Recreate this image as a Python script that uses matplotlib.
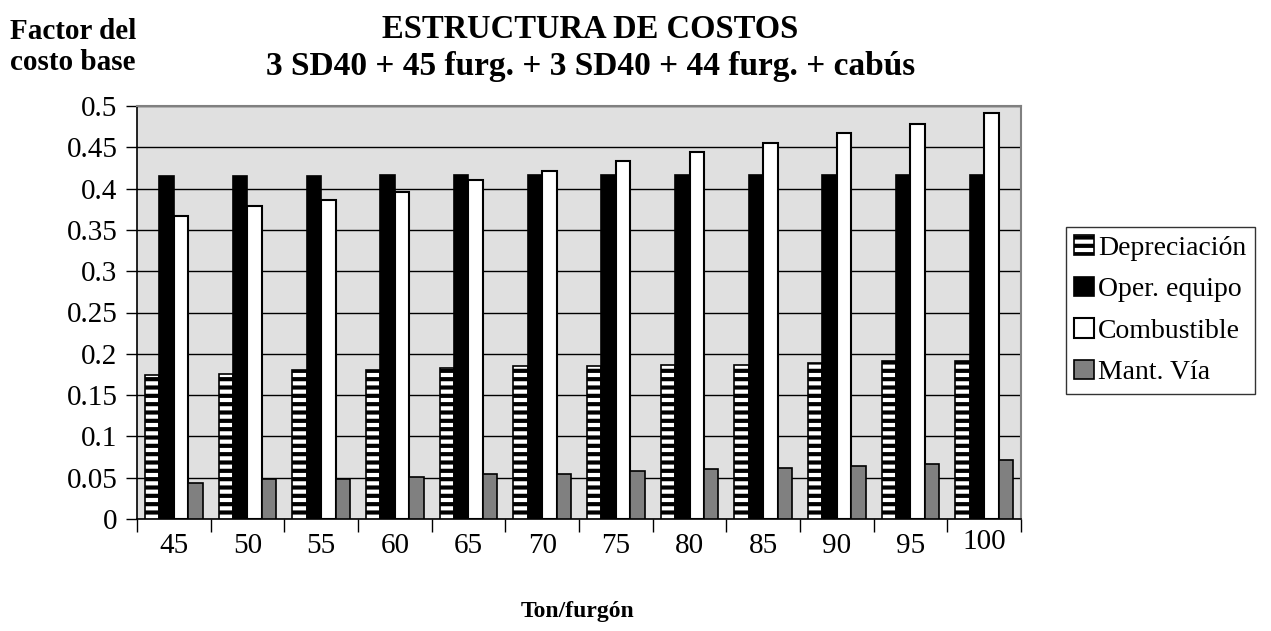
import matplotlib.pyplot as plt
import matplotlib.transforms as mtransforms
import numpy as np

# valores
ton_furgon = ['45', '50', '55', '60', '65', '70', '75', '80', '85', '90', '95', '100']
depreciacion = [0.174, 0.176, 0.180, 0.180, 0.183, 0.185, 0.185, 0.187, 0.187, 0.189, 0.191, 0.191]
oper_equipo = [0.415, 0.415, 0.415, 0.417, 0.417, 0.417, 0.417, 0.417, 0.417, 0.417, 0.417, 0.417]
combustible = [0.367, 0.379, 0.386, 0.396, 0.410, 0.421, 0.434, 0.444, 0.455, 0.467, 0.478, 0.491]
mant_via = [0.043, 0.048, 0.049, 0.051, 0.054, 0.055, 0.058, 0.060, 0.062, 0.064, 0.066, 0.071]
y_ticks = [0, 0.05, 0.1, 0.15, 0.2, 0.25, 0.3, 0.35, 0.4, 0.45, 0.5]
y_labels = ['0', '0.05', '0.1', '0.15', '0.2', '0.25', '0.3', '0.35', '0.4', '0.45', '0.5']

plt.rcParams['font.family'] = ['Liberation Serif', 'DejaVu Serif']
plt.rcParams['hatch.linewidth'] = 3.0
plt.rcParams['hatch.color'] = 'black'

fig = plt.figure(figsize=(12.71, 6.31), dpi=100)
ax = fig.add_axes([137 / 1271, 1 - 519 / 631, 884 / 1271, 413 / 631])
ax.set_facecolor('#e0e0e0')

x = np.arange(len(ton_furgon))
w = 0.195
ax.bar(x - 1.5 * w, depreciacion, w, color='white', edgecolor='black', hatch='--', linewidth=1.2, label='Depreciación', zorder=3)
ax.bar(x - 0.5 * w, oper_equipo, w, color='black', edgecolor='black', linewidth=1.2, label='Oper. equipo', zorder=3)
ax.bar(x + 0.5 * w, combustible, w, color='white', edgecolor='black', linewidth=1.5, label='Combustible', zorder=3)
ax.bar(x + 1.5 * w, mant_via, w, color='#808080', edgecolor='black', linewidth=1.2, label='Mant. Vía', zorder=3)

ax.set_xlim(-0.5, len(ton_furgon) - 0.5)
ax.set_ylim(0, 0.5)
ax.set_yticks(y_ticks)
ax.set_yticklabels(y_labels)
ax.yaxis.grid(True, color='black', linewidth=1.0, zorder=1)
ax.set_axisbelow(True)

# ticks entre categorías, etiquetas centradas
ax.set_xticks(np.arange(len(ton_furgon) + 1) - 0.5)
ax.set_xticklabels([])
ax.set_xticks(x, minor=True)
ax.set_xticklabels(ton_furgon, minor=True)
ax.tick_params(axis='x', which='major', length=9, width=1, color='black', direction='out')
ax.tick_params(axis='x', which='minor', length=0, pad=10, labelsize=21)
ax.tick_params(axis='y', length=8, width=1, direction='out', pad=6, labelsize=21)

# en el original la etiqueta "100" queda un poco más arriba
lbl = ax.get_xticklabels(minor=True)[-1]
lbl.set_transform(lbl.get_transform() + mtransforms.ScaledTranslation(0, 4 / 100, fig.dpi_scale_trans))

for s in ['top', 'right']:
    ax.spines[s].set_color('#808080')
    ax.spines[s].set_linewidth(1.5)
ax.spines['left'].set_linewidth(1.2)
ax.spines['bottom'].set_linewidth(1.2)

fig.text(590 / 1271, 1 - 29 / 631, 'ESTRUCTURA DE COSTOS', ha='center', va='center',
         fontsize=23.5, fontweight='bold')
fig.text(591 / 1271, 1 - 66 / 631, '3 SD40 + 45 furg. + 3 SD40 + 44 furg. + cabús', ha='center', va='center',
         fontsize=24, fontweight='bold')
fig.text(10 / 1271, 1 - 47 / 631, 'Factor del\ncosto base', ha='left', va='center',
         fontsize=21, fontweight='bold', linespacing=1.2)
fig.text(578 / 1271, 1 - 612 / 631, 'Ton/furgón', ha='center', va='center',
         fontsize=17, fontweight='bold')

leg = fig.legend(loc='upper left', bbox_to_anchor=(1066 / 1271, 1 - 227 / 631), fontsize=20,
                 frameon=True, fancybox=False, edgecolor='black', handlelength=0.7, handleheight=0.7,
                 handletextpad=0.15, labelspacing=0.58, borderpad=0.3, borderaxespad=0)
leg.get_frame().set_linewidth(1.0)

fig.savefig('out.png', dpi=100)
